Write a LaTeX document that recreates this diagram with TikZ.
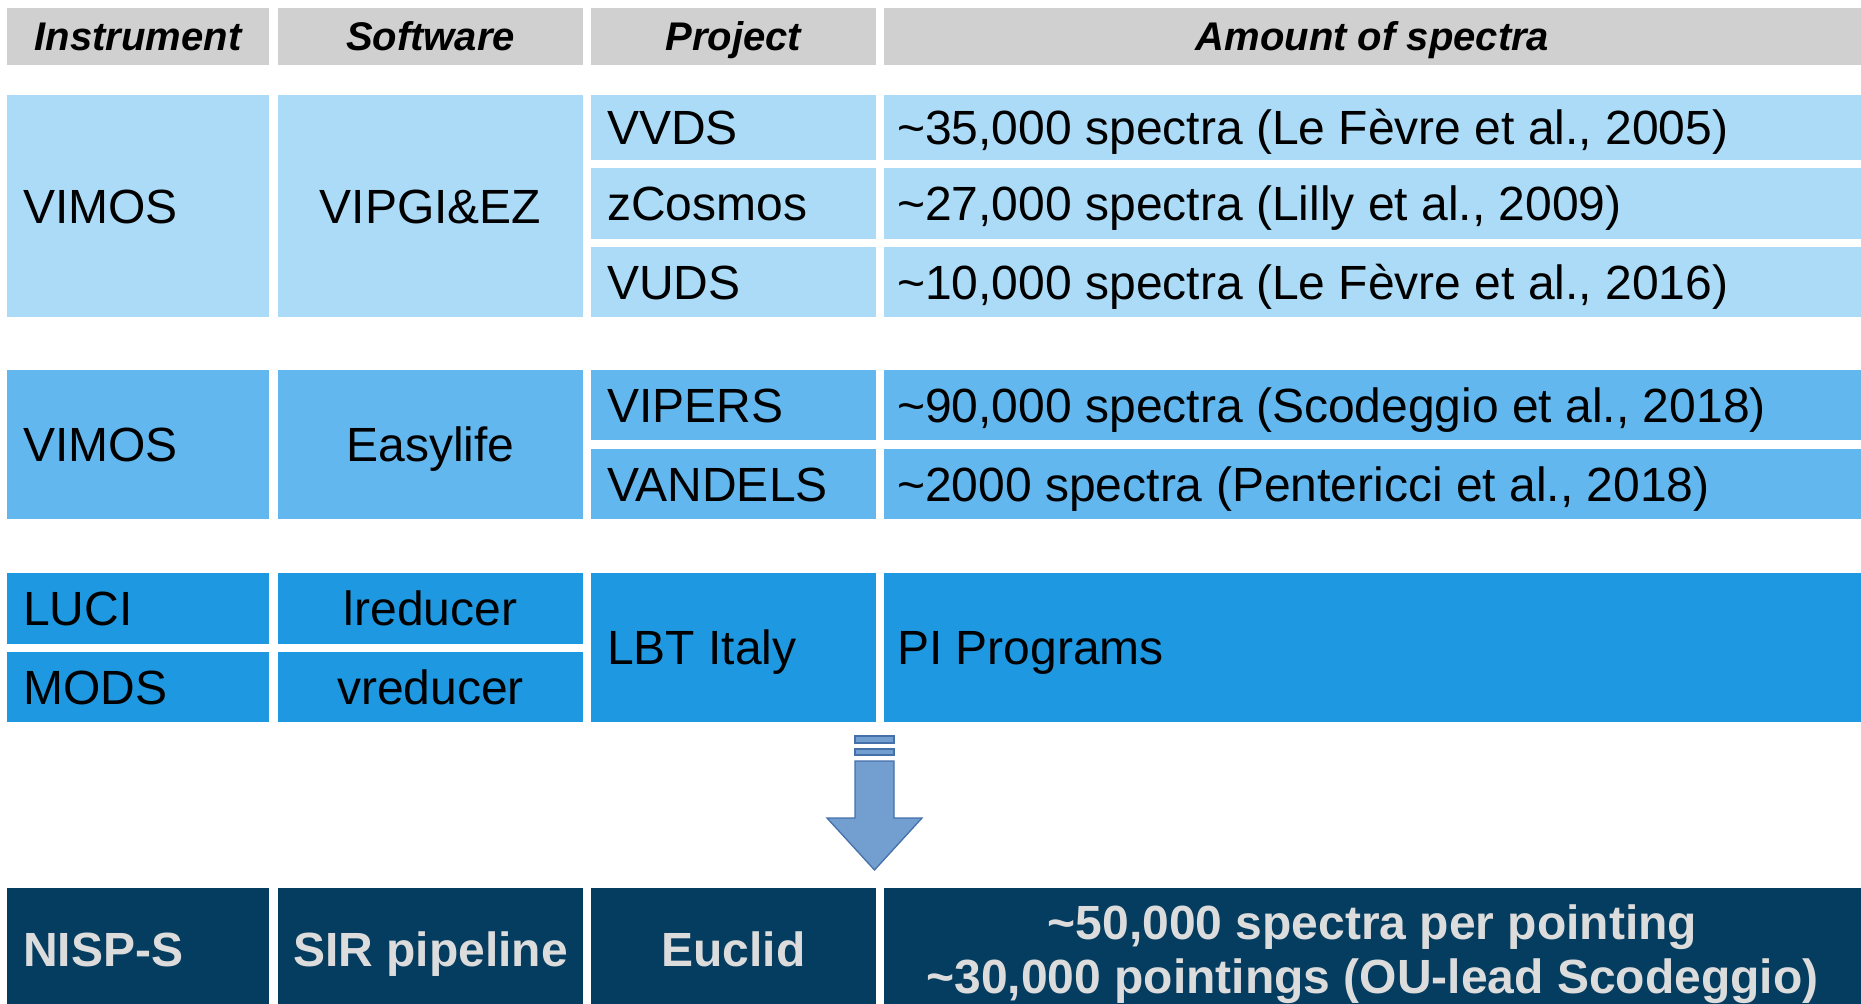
\documentclass[tikz,border=0pt]{standalone}
\usepackage{fontspec}
\setmainfont{Liberation Sans}
\definecolor{hdr}{HTML}{D0D0D0}
\definecolor{ga}{HTML}{ABDBF6}
\definecolor{gb}{HTML}{62B8EE}
\definecolor{gc}{HTML}{1E98E1}
\definecolor{gd}{HTML}{053D60}
\definecolor{btxt}{HTML}{DCDCDC}
\definecolor{arrfill}{HTML}{739FD0}
\definecolor{arrdraw}{HTML}{4670AA}
\newcommand\hdrfont{\fontsize{40}{48}\selectfont\bfseries\itshape}
\newcommand\bodyfont{\fontsize{48}{56}\selectfont}
\newcommand\botfont{\fontsize{48}{54}\selectfont\bfseries}
\tikzset{
  box/.style={anchor=north west, inner sep=0pt, outer sep=0pt, draw=none},
  txt/.style={inner sep=0pt, font=\bodyfont, text=black, text height=44.4pt, text depth=10pt},
  htxt/.style={inner sep=0pt, font=\hdrfont, text=black, text height=36.6pt, text depth=8pt},
  btx/.style={inner sep=0pt, font=\botfont, text=btxt, text height=44.4pt, text depth=10pt},
  arrowshape/.style={fill=arrfill, draw=arrdraw, line width=1.3pt, line join=miter}
}
% name, x, y, w, h, style, pad, text
\newcommand\Lcell[8]{%
  \node[box,#6,minimum width=#4,minimum height=#5] (#1) at (#2,#3) {};
  \node[txt,anchor=west] (#1t) at ([xshift=#7pt]#1.west) {#8};}
\newcommand\Ccell[7]{%
  \node[box,#6,minimum width=#4,minimum height=#5] (#1) at (#2,#3) {};
  \node[txt] (#1t) at (#1.center) {#7};}
\begin{document}
\begin{tikzpicture}[x=1pt,y=-1pt]
\useasboundingbox (0,0) rectangle (1861,1004);
\clip (0,0) rectangle (1861,1004);
% header
\node[box,fill=hdr,minimum width=262,minimum height=57] (h1) at (7,8) {};
\node[htxt] (h1t) at (h1.center) {Instrument};
\node[box,fill=hdr,minimum width=305,minimum height=57] (h2) at (278,8) {};
\node[htxt] (h2t) at (h2.center) {Software};
\node[box,fill=hdr,minimum width=285,minimum height=57] (h3) at (591,8) {};
\node[htxt] (h3t) at (h3.center) {Project};
\node[box,fill=hdr,minimum width=977,minimum height=57] (h4) at (884,8) {};
\node[htxt] (h4t) at (h4.center) {Amount of spectra};
% group 1
\Lcell{aI}{7}{95}{262}{222}{fill=ga}{16}{VIMOS}
\Ccell{aS}{278}{95}{305}{222}{fill=ga}{VIPGI\&EZ}
\Lcell{aP1}{591}{95}{285}{65}{fill=ga}{16}{VVDS}
\Lcell{aA1}{884}{95}{977}{65}{fill=ga}{13}{\textasciitilde35,000 spectra (Le Fèvre et al., 2005)}
\Lcell{aP2}{591}{168}{285}{71}{fill=ga}{16}{zCosmos}
\Lcell{aA2}{884}{168}{977}{71}{fill=ga}{13}{\textasciitilde27,000 spectra (Lilly et al., 2009)}
\Lcell{aP3}{591}{247}{285}{70}{fill=ga}{16}{VUDS}
\Lcell{aA3}{884}{247}{977}{70}{fill=ga}{13}{\textasciitilde10,000 spectra (Le Fèvre et al., 2016)}
% group 2
\Lcell{bI}{7}{370}{262}{149}{fill=gb}{16}{VIMOS}
\Ccell{bS}{278}{370}{305}{149}{fill=gb}{Easylife}
\Lcell{bP1}{591}{370}{285}{70}{fill=gb}{16}{VIPERS}
\Lcell{bA1}{884}{370}{977}{70}{fill=gb}{13}{\textasciitilde90,000 spectra (Scodeggio et al., 2018)}
\Lcell{bP2}{591}{449}{285}{70}{fill=gb}{16}{VANDELS}
\Lcell{bA2}{884}{449}{977}{70}{fill=gb}{13}{\textasciitilde2000 spectra (Pentericci et al., 2018)}
% group 3
\Lcell{cI1}{7}{573}{262}{71}{fill=gc}{16}{LUCI}
\Ccell{cS1}{278}{573}{305}{71}{fill=gc}{lreducer}
\Lcell{cI2}{7}{652}{262}{70}{fill=gc}{16}{MODS}
\Ccell{cS2}{278}{652}{305}{70}{fill=gc}{vreducer}
\Lcell{cP}{591}{573}{285}{149}{fill=gc}{16}{LBT Italy}
\Lcell{cA}{884}{573}{977}{149}{fill=gc}{13}{PI Programs}
% arrow
\draw[arrowshape] (855,736) rectangle (894,743);
\draw[arrowshape] (855,749) rectangle (894,755);
\draw[arrowshape] (855,761) -- (894,761) -- (894,818) -- (922,818) -- (874.5,870) -- (827,818) -- (855,818) -- cycle;
% bottom row
\node[box,fill=gd,minimum width=262,minimum height=122] (dI) at (7,888) {};
\node[btx,anchor=west] (dIt) at ([xshift=16pt]dI.west) {NISP-S};
\node[box,fill=gd,minimum width=305,minimum height=122] (dS) at (278,888) {};
\node[btx] (dSt) at (dS.center) {SIR pipeline};
\node[box,fill=gd,minimum width=285,minimum height=122] (dP) at (591,888) {};
\node[btx] (dPt) at (dP.center) {Euclid};
\node[box,fill=gd,minimum width=977,minimum height=122] (dA) at (884,888) {};
\node[btx] (dAt1) at ([yshift=27pt]dA.center) {\textasciitilde50,000 spectra per pointing};
\node[btx] (dAt2) at ([yshift=-27pt]dA.center) {\textasciitilde30,000 pointings (OU-lead Scodeggio)};
\end{tikzpicture}
\end{document}
